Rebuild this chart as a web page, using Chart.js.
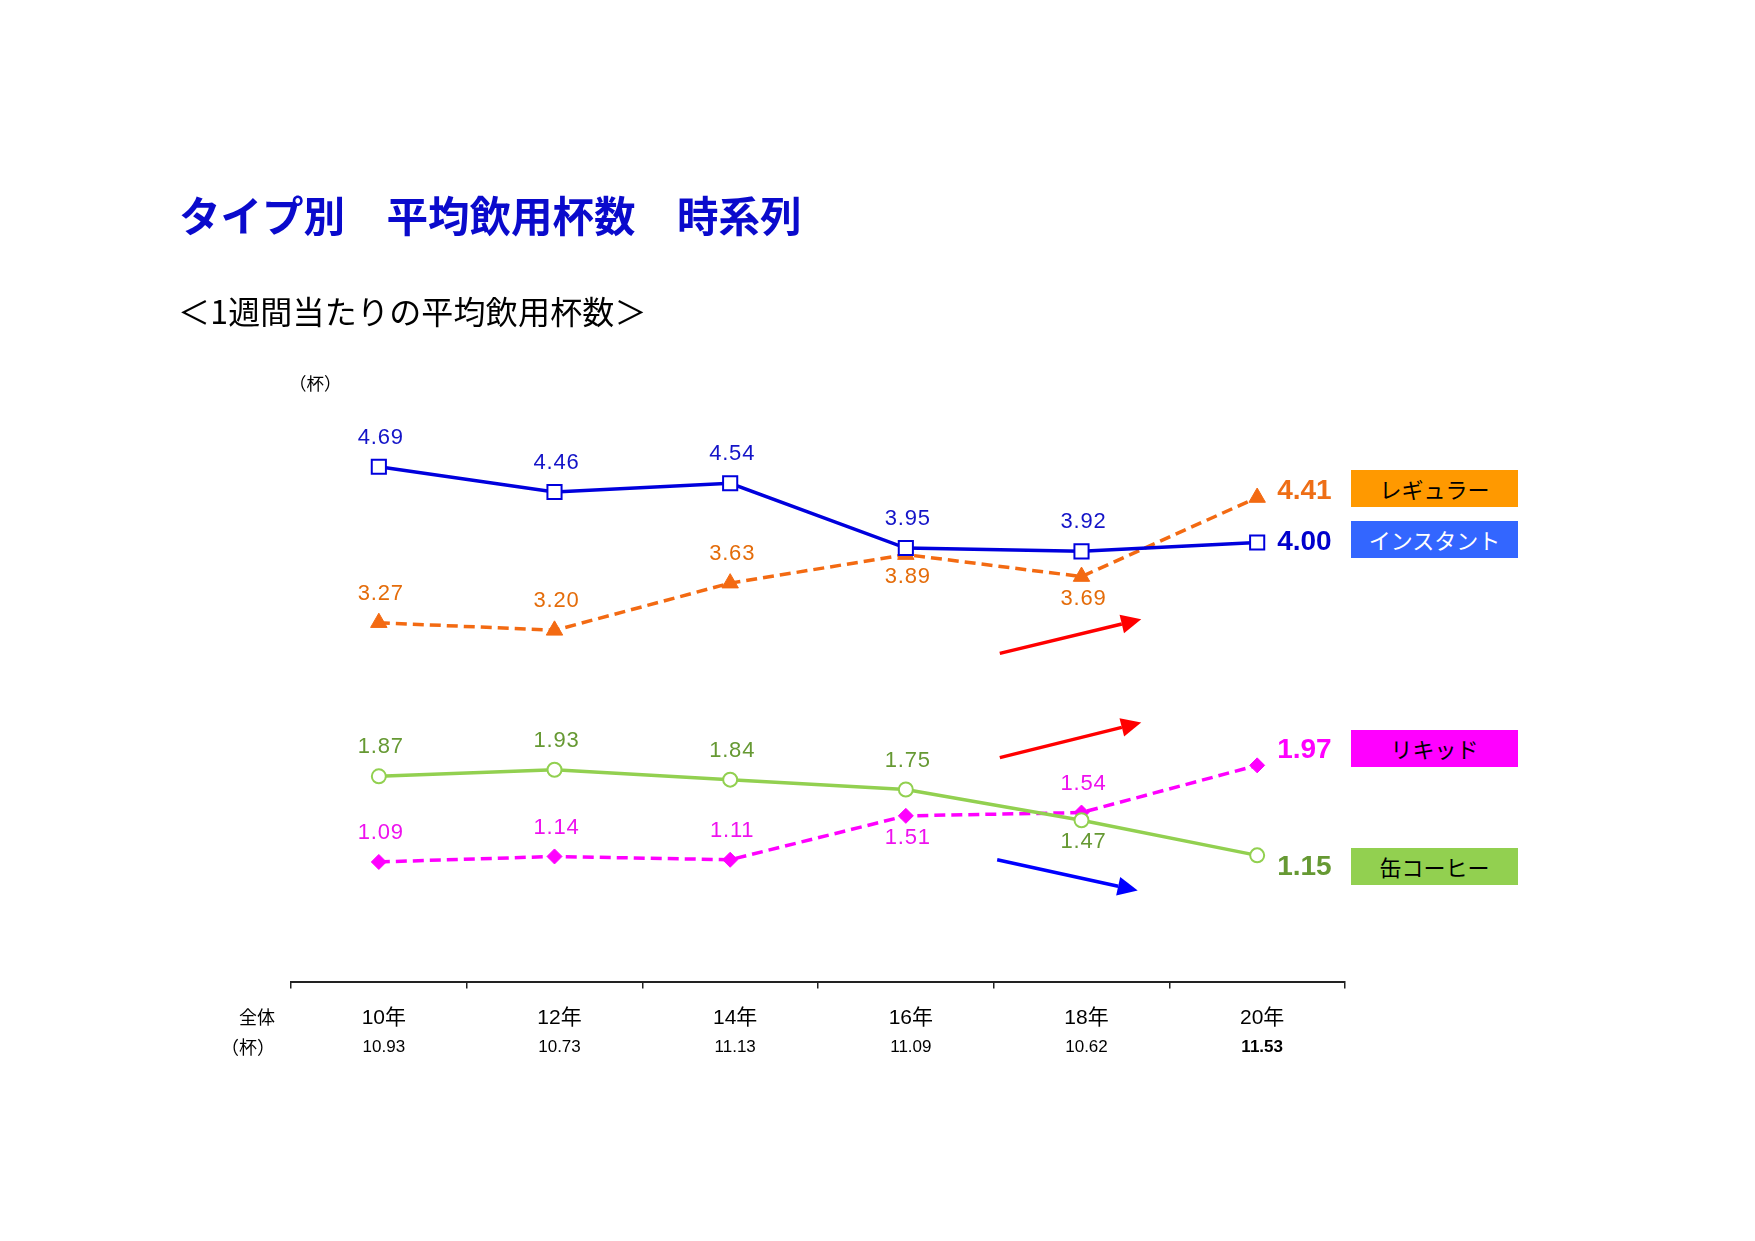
<!DOCTYPE html>
<html lang="ja">
<head>
<meta charset="utf-8">
<title>タイプ別 平均飲用杯数 時系列</title>
<script src="https://cdn.jsdelivr.net/npm/chart.js@4/dist/chart.umd.min.js"></script>
<style>
  html, body { margin: 0; padding: 0; background: #fff; }
  body { width: 1755px; height: 1241px; position: relative; overflow: hidden; font-family: "Noto Sans CJK JP", sans-serif; }
  #chart { position: absolute; left: 0; top: 0; }
  .txt { position: absolute; white-space: nowrap; line-height: 1; }
  .title { left: 179px; top: 194px; font-size: 41.5px; font-weight: 700; color: #0a0acc; }
  .sub { left: 178px; top: 294px; font-size: 32px; letter-spacing: 0.2px; color: #000; }
  .unit { left: 289px; top: 374px; font-size: 17.5px; color: #000; }
  .side { font-size: 18px; color: #000; transform: translateX(-50%); }
  .tag { position: absolute; left: 1351px; width: 167px; height: 37px; line-height: 37px; text-align: center; font-size: 22px; color: #000; }
</style>
</head>
<body>
<canvas id="chart" width="1755" height="1241"></canvas>

<div class="txt title">タイプ別　平均飲用杯数　時系列</div>
<div class="txt sub">＜1週間当たりの平均飲用杯数＞</div>
<div class="txt unit">（杯）</div>
<div class="txt side" style="left:257px;top:1007px;">全体</div>
<div class="txt side" style="left:248px;top:1037px;">（杯）</div>

<div class="tag" style="top:470px;background:#ff9900;">レギュラー</div>
<div class="tag" style="top:521px;background:#3366ff;color:#fff;">インスタント</div>
<div class="tag" style="top:730px;background:#ff00ff;">リキッド</div>
<div class="tag" style="top:848px;background:#92d050;">缶コーヒー</div>

<script>
// 調査年と全体の平均杯数
const years = ['10年', '12年', '14年', '16年', '18年', '20年'];
const totals = ['10.93', '10.73', '11.13', '11.09', '10.62', '11.53'];

// タイプ別 1週間当たりの平均飲用杯数
const instant = [4.69, 4.46, 4.54, 3.95, 3.92, 4.00];
const regular = [3.27, 3.20, 3.63, 3.89, 3.69, 4.41];
const liquid = [1.09, 1.14, 1.11, 1.51, 1.54, 1.97];
const canCoffee = [1.87, 1.93, 1.84, 1.75, 1.47, 1.15];

// ラベルの位置 (a: 上, b: 下, r: 右)
const instantPos = ['a', 'a', 'a', 'a', 'a', 'r'];
const regularPos = ['a', 'a', 'a', 'b', 'b', 'r'];
const liquidPos = ['a', 'a', 'a', 'b', 'a', 'r'];
const canPos = ['a', 'a', 'a', 'a', 'b', 'r'];

// 矢印 (カテゴリ位置, 値)
const arrows = [
  { from: [3.535, 2.99], to: [4.34, 3.30], color: '#ff0000' },
  { from: [3.535, 2.04], to: [4.34, 2.36], color: '#ff0000' },
  { from: [3.52, 1.11], to: [4.32, 0.83], color: '#0000ff' }
];

const NUM_FONT = '"Liberation Sans", Arial, sans-serif';

const series = [
  { label: 'インスタント', data: instant, pos: instantPos, line: '#0000dd', text: '#1414c8', end: '#0000cc', endDy: 0,
    pointStyle: 'rect', radius: 10, fill: '#ffffff', dash: [], order: 1 },
  { label: 'レギュラー', data: regular, pos: regularPos, line: '#f36a12', text: '#e46c0a', end: '#ee6e16', endDy: -6,
    pointStyle: 'triangle', radius: 9.5, fill: '#f36a12', dash: [11, 6], order: 2 },
  { label: '缶コーヒー', data: canCoffee, pos: canPos, line: '#92d050', text: '#669933', end: '#669933', endDy: 12,
    pointStyle: 'circle', radius: 7, fill: '#ffffff', dash: [], order: 3 },
  { label: 'リキッド', data: liquid, pos: liquidPos, line: '#ff00ff', text: '#ee11ee', end: '#ff00ff', endDy: -15,
    pointStyle: 'rectRot', radius: 7.5, fill: '#ff00ff', dash: [11, 6], order: 4 }
];

const valueLabels = {
  id: 'valueLabels',
  afterDatasetsDraw(chart) {
    const ctx = chart.ctx;
    ctx.save();
    series.forEach((s, di) => {
      const meta = chart.getDatasetMeta(di);
      meta.data.forEach((pt, i) => {
        const txt = s.data[i].toFixed(2);
        const p = s.pos[i];
        ctx.textBaseline = 'middle';
        if (p === 'r') {
          ctx.font = 'bold 28px ' + NUM_FONT;
          ctx.letterSpacing = '0px';
          ctx.fillStyle = s.end;
          ctx.textAlign = 'left';
          ctx.fillText(txt, pt.x + 20, pt.y + s.endDy);
        } else {
          ctx.font = '22px ' + NUM_FONT;
          ctx.letterSpacing = '0.8px';
          ctx.fillStyle = s.text;
          ctx.textAlign = 'center';
          ctx.fillText(txt, pt.x + 2, pt.y + (p === 'a' ? -29 : 22));
        }
      });
    });
    ctx.letterSpacing = '0px';

    const xs = chart.scales.x;
    const ys = chart.scales.y;
    arrows.forEach((a) => {
      const x1 = xs.getPixelForValue(a.from[0]);
      const y1 = ys.getPixelForValue(a.from[1]);
      const x2 = xs.getPixelForValue(a.to[0]);
      const y2 = ys.getPixelForValue(a.to[1]);
      const ang = Math.atan2(y2 - y1, x2 - x1);
      const head = 20;
      const half = 9.5;
      const bx = x2 - head * Math.cos(ang);
      const by = y2 - head * Math.sin(ang);
      ctx.strokeStyle = a.color;
      ctx.fillStyle = a.color;
      ctx.lineWidth = 3.5;
      ctx.beginPath();
      ctx.moveTo(x1, y1);
      ctx.lineTo(bx, by);
      ctx.stroke();
      ctx.beginPath();
      ctx.moveTo(x2, y2);
      ctx.lineTo(bx + half * Math.sin(ang), by - half * Math.cos(ang));
      ctx.lineTo(bx - half * Math.sin(ang), by + half * Math.cos(ang));
      ctx.closePath();
      ctx.fill();
    });
    ctx.restore();
  }
};

new Chart(document.getElementById('chart'), {
  type: 'line',
  data: {
    labels: years,
    datasets: series.map((s) => ({
      label: s.label,
      data: s.data,
      borderColor: s.line,
      borderWidth: 3.5,
      borderDash: s.dash,
      pointStyle: s.pointStyle,
      pointRadius: s.radius,
      pointBackgroundColor: s.fill,
      pointBorderColor: s.line,
      pointBorderWidth: s.fill === '#ffffff' ? 2 : 1,
      tension: 0,
      fill: false,
      order: s.order
    }))
  },
  options: {
    responsive: false,
    animation: false,
    events: [],
    devicePixelRatio: 1,
    layout: { padding: { left: 291, right: 410, top: 323, bottom: 171.4 } },
    plugins: { legend: { display: false }, tooltip: { enabled: false } },
    scales: {
      y: { display: false, min: 0, max: 6 },
      x: {
        type: 'category',
        position: 'bottom',
        offset: true,
        afterFit: (scale) => { scale.height = 48; },
        border: { display: true, color: '#222', width: 2 },
        grid: { offset: true, drawOnChartArea: false, drawTicks: true, tickLength: 7, color: '#222', lineWidth: 1.5 },
        ticks: { color: '#000', padding: 17, labelOffset: 5, font: { family: NUM_FONT + ', "Noto Sans CJK JP"', size: 21 } }
      },
      x2: {
        type: 'category',
        position: 'bottom',
        labels: totals,
        offset: true,
        afterFit: (scale) => { scale.height = 40; },
        border: { display: false },
        grid: { display: false, drawTicks: false },
        ticks: {
          color: '#000',
          padding: 8,
          labelOffset: 5,
          font: (c) => ({ family: NUM_FONT, size: 17, weight: c.index === totals.length - 1 ? 'bold' : 'normal' })
        }
      }
    }
  },
  plugins: [valueLabels]
});
</script>
</body>
</html>
